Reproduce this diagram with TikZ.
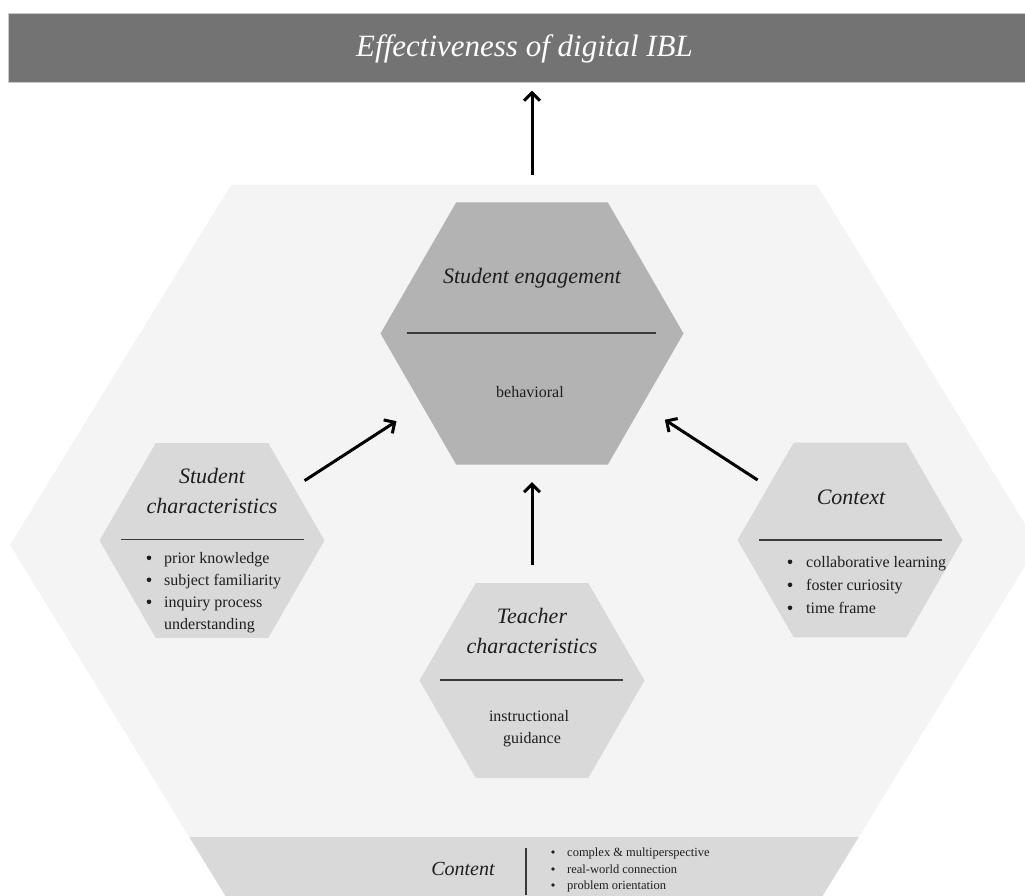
\documentclass[tikz,border=0pt]{standalone}
\usepackage{fontspec}
\setmainfont{Liberation Serif}
\usetikzlibrary{shapes.geometric,arrows.meta}

\definecolor{barGray}{HTML}{737373}
\definecolor{hexPale}{HTML}{F4F4F4}
\definecolor{hexMid}{HTML}{B3B3B3}
\definecolor{hexLight}{HTML}{D9D9D9}
\definecolor{ink}{HTML}{1E1E1E}
\definecolor{rulecol}{HTML}{3A3A3A}

\begin{document}
\begin{tikzpicture}[x=1pt,y=-1pt,
  hexnode/.style={regular polygon, regular polygon sides=6, inner sep=0pt, outer sep=0pt, draw=none},
  flow/.style={line width=3pt, black, -{Straight Barb[length=8pt,width=16pt,line width=3pt]}},
  heading/.style={font=\fontsize{22}{26}\selectfont\itshape, text=ink, anchor=base, inner sep=0pt},
  item/.style={font=\fontsize{16}{19}\selectfont, text=ink, anchor=base west, inner sep=0pt},
  centered/.style={font=\fontsize{16}{19}\selectfont, text=ink, anchor=base, inner sep=0pt},
  dot/.style={circle, fill=ink, inner sep=0pt, minimum size=4.6pt},
  smallitem/.style={font=\fontsize{12.5}{15}\selectfont, text=ink, anchor=base west, inner sep=0pt},
  smalldot/.style={circle, fill=ink, inner sep=0pt, minimum size=3.8pt},
  divider/.style={draw=rulecol, line width=1.4pt},
]
\useasboundingbox (0,0) rectangle (1025,896);

% outcome bar
\node[fill=barGray, draw={rgb,255:red,200;green,200;blue,200}, line width=0.6pt,
      minimum width=1025pt, minimum height=69pt, anchor=north west, inner sep=0pt] (goal) at (8,13) {};
\node[font=\fontsize{31}{36}\selectfont\itshape, text=white, anchor=base, inner sep=0pt] (goaltext) at (524.5,57) {Effectiveness of digital IBL};

% large background hexagon with the content band at its foot
\fill[hexPale] (231,185) -- (817,185) -- (1038,545) -- (817,905) -- (231,905) -- (10,545) -- cycle;
\begin{scope}
  \clip (231,185) -- (817,185) -- (1038,545) -- (817,905) -- (231,905) -- (10,545) -- cycle;
  \fill[hexLight] (0,837) rectangle (1040,910);
\end{scope}

% factor hexagons
\node[hexnode, fill=hexMid, minimum size=303pt] (eng) at (532,333.5) {};
\node[hexnode, fill=hexLight, minimum size=225pt] (stu) at (212,540.5) {};
\node[hexnode, fill=hexLight, minimum size=225pt] (ctx) at (850,540) {};
\node[hexnode, fill=hexLight, minimum size=225pt] (tch) at (532,680.5) {};

% student engagement
\node[heading] (engT) at (532,283) {Student engagement};
\draw[divider] (407,333) -- (656,333);
\node[centered] (engB) at (530,397) {behavioral};

% student characteristics
\node[heading] (stuT1) at (212,483) {Student};
\node[heading] (stuT2) at (212,513) {characteristics};
\draw[divider] (121,539.5) -- (304,539.5);
\node[dot] at (149,557.8) {};
\node[item] (s1) at (164,563) {prior knowledge};
\node[dot] at (149,579.8) {};
\node[item] (s2) at (164,585) {subject familiarity};
\node[dot] at (149,601.8) {};
\node[item] (s3) at (164,607) {inquiry process};
\node[item] (s4) at (164,629) {understanding};

% context
\node[heading] (ctxT) at (851,504) {Context};
\draw[divider] (759,540) -- (942,540);
\node[dot] at (790,561.8) {};
\node[item] (c1) at (806,567) {collaborative learning};
\node[dot] at (790,584.8) {};
\node[item] (c2) at (806,590) {foster curiosity};
\node[dot] at (790,607.8) {};
\node[item] (c3) at (806,613) {time frame};

% teacher characteristics
\node[heading] (tchT1) at (532,623) {Teacher};
\node[heading] (tchT2) at (532,653) {characteristics};
\draw[divider] (440,680) -- (623,680);
\node[centered] (tchB1) at (529,721) {instructional};
\node[centered] (tchB2) at (532,743) {guidance};

% content band
\node[font=\fontsize{20}{24}\selectfont\itshape, text=ink, anchor=base, inner sep=0pt] (cont) at (463,875) {Content};
\draw[draw=rulecol, line width=1.2pt] (526,848) -- (526,895);
\node[smalldot] at (553,852) {};
\node[smallitem] (k1) at (567,856) {complex \& multiperspective};
\node[smalldot] at (553,869) {};
\node[smallitem] (k2) at (567,873) {real-world connection};
\node[smalldot] at (553,885) {};
\node[smallitem] (k3) at (567,889) {problem orientation};

% influences
\draw[flow, shorten <=12.7pt, shorten >=30pt] (stu) -- (eng);
\draw[flow, shorten <=12.6pt, shorten >=27pt] (ctx) -- (eng);
\draw[flow, shorten <=17.6pt, shorten >=17.3pt] (tch) -- (eng);
\draw[flow, shorten <=27pt, shorten >=8pt] (eng.north) -- (eng.north |- goal.south);
\end{tikzpicture}
\end{document}
